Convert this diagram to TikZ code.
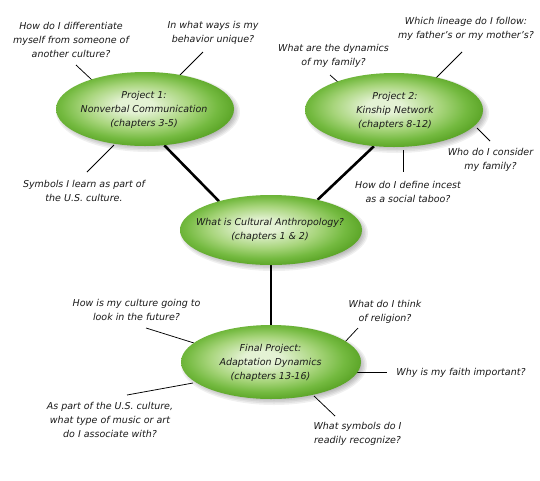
\documentclass[tikz,border=0pt]{standalone}
\usepackage{fontspec}
\setmainfont{DejaVu Sans}
\usetikzlibrary{shapes.geometric}
\definecolor{gHi}{HTML}{E4F2D4}
\definecolor{gMid}{HTML}{A8D57C}
\definecolor{gEdge}{HTML}{74BA40}
\definecolor{gDark}{HTML}{5AA426}
\definecolor{txt}{HTML}{1A1A1A}
\pgfdeclareradialshading{eggreen}{\pgfpoint{-3bp}{3bp}}{color(0bp)=(gHi); color(5bp)=(gHi); color(15bp)=(gMid); color(22bp)=(gEdge); color(27bp)=(gDark); color(50bp)=(gDark)}
\pgfdeclarelayer{bg}
\pgfsetlayers{bg,main}
\tikzset{
  egg/.style={ellipse, draw=none, shading=eggreen, inner sep=0pt},
  eshadow/.style={fill=black, fill opacity=0.06, draw=none},
  etext/.style={align=center, font=\fontsize{9.5}{14}\selectfont\itshape, text=txt, inner sep=0pt},
  qtext/.style={align=center, font=\fontsize{9.5}{14}\selectfont\itshape, text=txt, inner sep=0pt},
  thin/.style={draw=black, line width=0.75pt},
  thick/.style={draw=black, line width=2.6pt}
}
\begin{document}
\begin{tikzpicture}[x=1pt,y=-1pt]
\begin{pgfonlayer}{bg}
\fill[white] (0,0) rectangle (540,480);
\end{pgfonlayer}
\useasboundingbox (0,0) rectangle (540,480);

% ellipses
\node[egg, minimum width=178pt, minimum height=74pt] (p1) at (145,109) {};
\node[egg, minimum width=178pt, minimum height=74pt] (p2) at (394,110) {};
\node[egg, minimum width=182pt, minimum height=70pt] (c) at (271,230) {};
\node[egg, minimum width=180pt, minimum height=74pt] (f) at (271,362) {};

\node[etext] (p1t) at (144,109.5) {Project 1:\\Nonverbal Communication\\(chapters 3-5)};
\node[etext] (p2t) at (395,110.5) {Project 2:\\Kinship Network\\(chapters 8-12)};
\node[etext] (ct) at (270,230) {What is Cultural Anthropology?\\(chapters 1 \& 2)};
\node[etext] (ft) at (270.5,362.5) {Final Project:\\Adaptation Dynamics\\(chapters 13-16)};

% questions
\node[qtext] (q1) at (71,40) {How do I differentiate\\myself from someone of\\another culture?};
\node[qtext] (q2) at (213,33) {In what ways is my\\behavior unique?};
\node[qtext] (q3) at (84,191) {Symbols I learn as part of\\the U.S. culture.};
\node[qtext] (q4) at (333.5,56) {What are the dynamics\\of my family?};
\node[qtext] (q5) at (466,29) {Which lineage do I follow:\\my father's or my mother's?};
\node[qtext] (q6) at (490.5,160) {Who do I consider\\my family?};
\node[qtext] (q7) at (408,192) {How do I define incest\\as a social taboo?};
\node[qtext] (q8) at (136.5,310) {How is my culture going to\\look in the future?};
\node[qtext] (q9) at (110,420) {As part of the U.S. culture,\\what type of music or art\\do I associate with?};
\node[qtext] (q10) at (385,312) {What do I think\\of religion?};
\node[qtext] (q11) at (461,373) {Why is my faith important?};
\node[qtext] (q12) at (357.5,434) {What symbols do I\\readily recognize?};

% connector end points
\coordinate (a1) at (76,65);   \coordinate (b1) at (92,80);
\coordinate (a2) at (203,52);  \coordinate (b2) at (180,75);
\coordinate (a3) at (87,172);  \coordinate (b3) at (114,145);
\coordinate (a4) at (330,75);  \coordinate (b4) at (339,83);
\coordinate (a5) at (462,52);  \coordinate (b5) at (435,79);
\coordinate (a6) at (477,128); \coordinate (b6) at (490,141);
\coordinate (a7) at (403,150); \coordinate (b7) at (403,172);
\coordinate (a8) at (194,343); \coordinate (b8) at (146,328);
\coordinate (a9) at (193,383); \coordinate (b9) at (127,395);
\coordinate (a10) at (344,343); \coordinate (b10) at (358,328);
\coordinate (a11) at (356,372); \coordinate (b11) at (387,372);
\coordinate (a12) at (314,396); \coordinate (b12) at (335,416);

\begin{pgfonlayer}{bg}
% soft shadows
\foreach \n/\rx/\ry in {p1/89/37, p2/89/37, c/91/35, f/90/37} {
  \foreach \k in {0,...,4} {
    \fill[eshadow] ([shift={(3,3)}]\n.center) ellipse [x radius={\rx+3-1.5*\k}, y radius={\ry+3-1.5*\k}];
  }
}
\draw[thick] (p1.-62) -- (c.151);
\draw[thick] (p2.-119) -- (c.33);
\draw[thick] (c.south) -- (f.north);
\foreach \i in {1,...,12} {\draw[thin] (a\i) -- (b\i);}
\end{pgfonlayer}
\end{tikzpicture}
\end{document}
